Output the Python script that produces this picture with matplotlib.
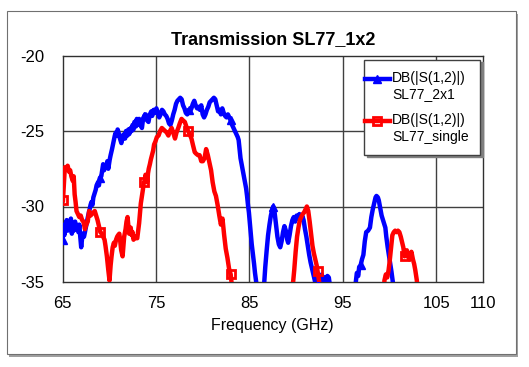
import numpy as np
import matplotlib
matplotlib.use("Agg")
import matplotlib.pyplot as plt
from matplotlib.patches import Rectangle
from matplotlib.legend_handler import HandlerLine2D

# ---------------- data ----------------
blue_freq = [65.0, 65.1, 65.2, 65.3, 65.45, 65.55, 65.65, 65.8, 65.9, 66.0, 66.1, 66.2, 66.35, 66.45, 66.55, 66.7, 66.8, 66.9, 67.0, 67.1,
             67.2, 67.3, 67.4, 67.55, 67.65, 67.75, 67.9, 68.0, 68.1, 68.2, 68.3, 68.45, 68.55, 68.65, 68.8, 68.9, 69.0, 69.15, 69.25, 69.35,
             69.45, 69.55, 69.7, 69.8, 69.9, 70.05, 70.15, 70.3, 70.4, 70.5, 70.6, 70.7, 70.8, 70.9, 71.0, 71.1, 71.2, 71.3, 71.4, 71.5,
             71.6, 71.7, 71.8, 71.95, 72.05, 72.15, 72.3, 72.4, 72.5, 72.6, 72.7, 72.85, 72.95, 73.05, 73.2, 73.35, 73.5, 73.6, 73.75, 73.9,
             74.05, 74.2, 74.35, 74.5, 74.6, 74.75, 74.9, 75.05, 75.2, 75.35, 75.5, 75.65, 75.8, 75.95, 76.1, 76.25, 76.4, 76.55, 76.7, 76.85,
             77.0, 77.15, 77.3, 77.45, 77.6, 77.75, 77.9, 78.05, 78.2, 78.35, 78.5, 78.65, 78.8, 78.95, 79.1, 79.25, 79.4, 79.55, 79.7, 79.85,
             80.0, 80.15, 80.3, 80.45, 80.6, 80.75, 80.9, 81.05, 81.2, 81.35, 81.5, 81.65, 81.8, 81.95, 82.1, 82.25, 82.4, 82.55, 82.7, 82.85,
             83.0, 83.15, 83.3, 83.45, 83.6, 83.75, 83.85, 83.95, 84.05, 84.2, 84.35, 84.5, 84.65, 84.75, 84.85, 84.95, 85.05, 85.15, 85.25, 85.35,
             85.5, 85.6, 85.75, 85.95, 86.3, 86.55, 86.7, 86.85, 87.0, 87.15, 87.3, 87.45, 87.55, 87.7, 87.85, 88.0, 88.15, 88.3, 88.45, 88.6,
             88.75, 88.9, 89.05, 89.15, 89.3, 89.45, 89.6, 89.75, 89.9, 90.05, 90.2, 90.35, 90.5, 90.65, 90.8, 90.95, 91.1, 91.25, 91.4, 91.55,
             91.7, 91.85, 92.0, 92.15, 92.3, 92.45, 92.6, 92.75, 92.9, 93.05, 93.2, 93.35, 93.5, 93.65, 93.8, 96.1, 96.35, 96.5, 96.65, 96.75,
             96.9, 97.05, 97.2, 97.35, 97.5, 97.7, 97.9, 98.05, 98.2, 98.35, 98.5, 98.6, 98.75, 98.85, 99.0, 99.15, 99.3, 99.45, 99.55, 99.65,
             99.8, 99.9, 100.05, 100.2, 100.35, 100.5]
blue_db = [-32.2, -31.2, -31.9, -31.5, -30.9, -31.6, -31.0, -31.4, -30.8, -31.8, -31.2, -31.6, -31.0, -31.5, -31.3, -31.7, -31.2, -32.0, -32.7, -32.1,
           -31.8, -32.0, -31.7, -31.2, -30.9, -30.6, -30.2, -29.9, -29.7, -29.9, -29.4, -29.1, -28.9, -28.6, -28.4, -28.6, -28.1, -28.0, -27.6, -27.2,
           -27.6, -27.3, -27.4, -27.0, -27.5, -26.9, -26.6, -26.2, -25.9, -25.6, -25.3, -25.1, -25.3, -24.9, -25.1, -25.4, -25.6, -25.8, -25.3, -25.5,
           -25.2, -25.5, -25.0, -25.3, -24.9, -25.2, -24.8, -25.0, -24.6, -24.9, -24.4, -24.7, -24.2, -24.6, -24.2, -24.6, -24.8, -24.3, -24.0, -23.9,
           -24.3, -24.4, -23.9, -23.7, -24.0, -23.6, -23.8, -23.5, -23.8, -24.1, -23.9, -23.6, -23.7, -23.9, -24.0, -24.2, -24.5, -24.6, -24.3, -23.9,
           -23.6, -23.2, -23.0, -22.9, -22.8, -22.9, -23.3, -23.5, -23.8, -23.9, -23.6, -23.7, -23.5, -23.2, -23.0, -23.3, -23.5, -23.4, -23.6, -23.3,
           -23.9, -24.1, -23.9, -23.6, -23.4, -23.1, -23.0, -22.9, -22.8, -22.9, -23.3, -23.7, -23.6, -23.9, -23.5, -23.8, -24.0, -24.1, -23.9, -24.1,
           -24.3, -24.6, -24.8, -25.0, -25.2, -25.4, -25.6, -26.2, -26.8, -27.3, -27.8, -28.3, -28.8, -29.3, -29.9, -30.4, -31.1, -31.8, -32.5, -33.0,
           -33.8, -34.4, -35.1, -36.5, -37.5, -35.4, -34.0, -32.9, -31.9, -31.2, -30.6, -30.2, -30.0, -30.4, -31.2, -32.0, -32.5, -32.7, -32.3, -31.7,
           -31.3, -31.6, -32.2, -32.4, -31.9, -31.3, -30.9, -30.7, -31.0, -30.6, -30.8, -30.5, -30.9, -30.6, -30.9, -31.5, -32.0, -32.6, -33.2, -33.7,
           -34.1, -34.5, -34.9, -35.3, -35.1, -34.6, -34.9, -34.5, -35.0, -34.7, -35.1, -34.6, -34.7, -35.4, -38.0, -38.0, -35.2, -34.4, -34.6, -34.0,
           -33.9, -33.5, -33.2, -32.3, -31.7, -31.6, -31.4, -30.7, -30.2, -29.8, -29.4, -29.3, -29.4, -29.6, -30.1, -30.6, -30.9, -31.2, -31.4, -32.0,
           -32.7, -33.1, -33.7, -34.3, -35.0, -36.0]

red_freq = [65.05, 65.15, 65.25, 65.4, 65.55, 65.7, 65.82, 65.95, 66.1, 66.2, 66.3, 66.4, 66.5, 66.65, 66.8, 66.95, 67.1, 67.25, 67.4, 67.55,
            67.7, 67.85, 68.0, 68.15, 68.3, 68.45, 68.6, 68.75, 68.9, 69.05, 69.2, 69.35, 69.5, 69.6, 69.75, 69.9, 70.03, 70.15, 70.25, 70.37,
            70.5, 70.6, 70.73, 70.85, 70.95, 71.08, 71.18, 71.28, 71.43, 71.52, 71.6, 71.75, 71.85, 71.96, 72.05, 72.13, 72.22, 72.3, 72.4, 72.5,
            72.6, 72.75, 72.9, 73.0, 73.1, 73.2, 73.3, 73.38, 73.5, 73.6, 73.7, 73.8, 73.88, 74.0, 74.08, 74.15, 74.23, 74.35, 74.45, 74.58,
            74.7, 74.8, 74.94, 75.1, 75.28, 75.45, 75.63, 75.8, 75.98, 76.15, 76.33, 76.5, 76.68, 76.85, 77.04, 77.2, 77.39, 77.55, 77.74, 77.9,
            78.09, 78.25, 78.44, 78.6, 78.8, 78.95, 79.15, 79.3, 79.5, 79.67, 79.85, 80.02, 80.2, 80.37, 80.55, 80.72, 80.9, 81.07, 81.25, 81.42,
            81.6, 81.78, 81.95, 82.12, 82.3, 82.47, 82.65, 82.82, 83.0, 83.1, 83.3, 89.5, 89.65, 89.8, 89.95, 90.1, 90.25, 90.4, 90.55, 90.7,
            90.85, 91.0, 91.15, 91.3, 91.45, 91.6, 91.75, 91.9, 92.05, 92.2, 92.3, 92.45, 92.55, 92.7, 99.3, 99.45, 99.6, 99.75, 99.9, 100.0,
            100.15, 100.3, 100.45, 100.6, 100.75, 100.9, 101.05, 101.2, 101.35, 101.47, 101.6, 101.72, 101.85, 101.97, 102.1, 102.22, 102.34, 102.5, 102.63, 102.75,
            102.85, 102.92, 103.0]
red_db = [-29.6, -28.5, -27.4, -27.5, -27.3, -27.7, -27.6, -28.0, -28.3, -28.0, -29.2, -29.7, -30.3, -30.5, -30.7, -30.6, -30.9, -31.0, -31.5, -31.2,
          -31.0, -30.3, -30.6, -30.5, -30.4, -30.3, -30.6, -30.9, -31.3, -31.7, -31.8, -32.0, -32.2, -32.6, -33.3, -34.2, -34.9, -33.9, -33.3, -32.7,
          -32.4, -32.6, -32.2, -32.0, -31.9, -31.8, -32.3, -32.9, -33.3, -32.6, -32.0, -31.5, -31.0, -30.7, -31.3, -31.8, -31.4, -31.4, -31.9, -31.7,
          -32.2, -32.0, -32.1, -32.1, -31.6, -31.1, -30.4, -29.8, -29.3, -28.9, -28.4, -28.3, -27.9, -28.2, -28.4, -27.8, -27.5, -27.2, -26.9, -26.6,
          -26.3, -25.9, -25.7, -25.4, -25.3, -25.0, -24.8, -24.9, -25.0, -25.1, -25.3, -25.0, -24.8, -25.1, -25.5, -25.1, -24.8, -24.5, -24.2, -24.3,
          -24.4, -24.7, -25.0, -25.2, -25.5, -25.9, -26.4, -26.5, -26.6, -26.6, -27.0, -27.0, -26.8, -26.2, -26.6, -27.1, -27.6, -28.4, -29.0, -29.3,
          -29.9, -30.6, -31.2, -30.8, -31.9, -32.8, -33.4, -34.1, -34.5, -35.1, -38.0, -38.0, -35.2, -34.2, -33.0, -32.0, -31.4, -30.9, -30.7, -30.5,
          -30.4, -30.2, -30.0, -30.3, -31.0, -31.8, -32.6, -33.1, -33.5, -33.9, -34.3, -34.9, -35.4, -38.0, -38.0, -34.9, -34.5, -34.7, -34.2, -33.7,
          -32.8, -31.9, -31.7, -31.6, -31.7, -31.6, -31.7, -32.0, -32.4, -32.7, -33.3, -33.0, -32.9, -33.3, -33.5, -33.2, -33.0, -33.5, -33.8, -34.2,
          -34.6, -34.9, -35.5]

marker_freq = [65.05, 69.05, 73.7, 78.44, 83.0, 87.55, 92.3, 96.9, 101.6]

x_ticks = [65, 75, 85, 95, 105, 110]
y_ticks = [-35, -30, -25, -20]
grid_x = [75, 85, 95, 105]
grid_y = [-30, -25]

label_blue = "DB(|S(1,2)|)\nSL77_2x1"
label_red = "DB(|S(1,2)|)\nSL77_single"
title = "Transmission SL77_1x2"
xlabel = "Frequency (GHz)"

# ---------------- plot ----------------
plt.rcParams['font.family'] = ['Liberation Sans', 'DejaVu Sans']
plt.rcParams['axes.unicode_minus'] = False

W, H = 529, 367
fig = plt.figure(figsize=(W / 100, H / 100), dpi=100)
fig.patch.set_facecolor('white')

# outer frame with shadow
fig.patches.append(Rectangle((9 / W, 1 - 357 / H), 509 / W, 343 / H, transform=fig.transFigure,
                             facecolor='#a0a0a0', edgecolor='none', zorder=-3))
fig.patches.append(Rectangle((7 / W, 1 - 354 / H), 509 / W, 343 / H, transform=fig.transFigure,
                             facecolor='white', edgecolor='#707070', lw=0.8, zorder=-2))

ax = fig.add_axes([62.5 / W, 1 - 282 / H, (483 - 62.5) / W, (282 - 55.5) / H])
ax.set_zorder(1)


def marker_idx(freqs, mf):
    f = np.asarray(freqs)
    return [int(np.argmin(np.abs(f - m))) for m in mf]


EXT = 7.5  # points the handle line is extended to the left


class TopHandler(HandlerLine2D):
    """Line handle aligned with the first line of a two-line label, extended leftwards."""
    def create_artists(self, legend, orig_handle, xdescent, ydescent, width, height, fontsize, trans):
        arts = super().create_artists(legend, orig_handle, xdescent, ydescent, width, height, fontsize, trans)
        for a in arts:
            xd = np.asarray(a.get_xdata(), dtype=float)
            yd = np.asarray(a.get_ydata(), dtype=float)
            lo, hi = xd.min(), xd.max()
            if hi > lo:
                xd = (lo - EXT) + (xd - lo) * (hi - lo + EXT) / (hi - lo)
            else:
                xd = xd - EXT / 2
            a.set_xdata(xd)
            a.set_ydata(yd + 0.55 * fontsize)
        return arts


ax.plot(blue_freq, blue_db, color='#0000ff', lw=3.2, marker='^', ms=6,
        markevery=marker_idx(blue_freq, marker_freq), label=label_blue, zorder=3,
        solid_joinstyle='round')
ax.plot(red_freq, red_db, color='#ff0000', lw=3.2, marker='s', ms=6, mfc='none', mew=2,
        markevery=marker_idx(red_freq, marker_freq), label=label_red, zorder=4,
        solid_joinstyle='round')

ax.set_xlim(65, 110)
ax.set_ylim(-35, -20)
ax.set_xticks(x_ticks)
ax.set_yticks(y_ticks)
ax.tick_params(length=0, labelsize=12, colors='black')
ax.tick_params(axis='x', pad=10)
ax.tick_params(axis='y', pad=13)
for g in grid_x:
    ax.axvline(g, color='#404040', lw=1, zorder=1)
for g in grid_y:
    ax.axhline(g, color='#404040', lw=1, zorder=1)
for s in ax.spines.values():
    s.set_color('#303030')
    s.set_linewidth(1)

ax.set_xlabel(xlabel, fontsize=11.5, labelpad=5)
ax.set_title(title, fontsize=13, fontweight='bold', pad=8)

leg = ax.legend(loc='upper right', bbox_to_anchor=((480 - 62.5) / (483 - 62.5), (282 - 59.5) / (282 - 55.5)),
                fontsize=10, frameon=True, fancybox=False, shadow={'color': '#808080', 'alpha': 1},
                handlelength=1.08, handletextpad=0.15, borderpad=0.8, labelspacing=0.9,
                borderaxespad=0, edgecolor='#404040',
                handler_map={matplotlib.lines.Line2D: TopHandler()})
leg.get_frame().set_linewidth(1)
leg.set_zorder(10)

fig.savefig('out.png', dpi=100)
